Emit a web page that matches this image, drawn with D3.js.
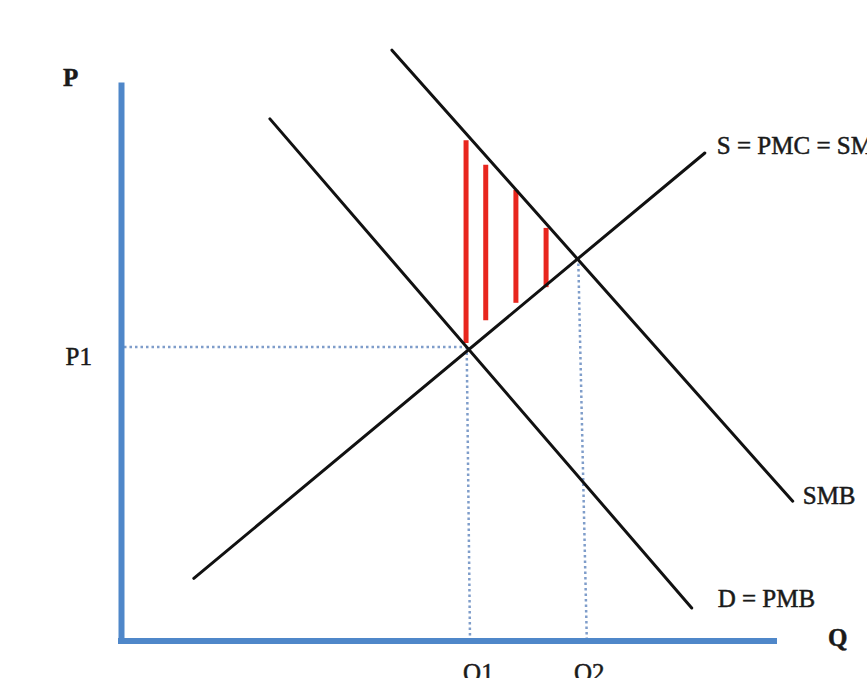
<!DOCTYPE html>
<html>
<head>
<meta charset="utf-8">
<script src="https://cdn.jsdelivr.net/npm/d3@7"></script>
<style>
  body { margin: 0; background: #fff; }
  svg { display: block; }
  text { font-family: "Liberation Serif", "Times New Roman", serif; fill: #1a1a1a; stroke: #1a1a1a; stroke-width: 0.5px; }
</style>
</head>
<body>
<div id="chart"></div>
<script>
var svgWidth = 867;
var svgHeight = 678;

// curves, as [Q, P] end points in chart units (0-100 on each axis)
var curveNames = ["D = PMB", "SMB", "S = PMC = SMC"];
var dQ = [22.7, 87.0];
var dP = [93.4, 5.9];
var smbQ = [41.3, 102.4];
var smbP = [105.7, 25.0];
var sQ = [11.1, 89.0];
var sP = [11.2, 87.3];

// equilibria (D/S and SMB/S) and where their guide lines meet the Q axis
var eqQ = [52.7, 69.7];
var eqP = [52.6, 68.5];
var footQ = [53.2, 71.0];

// axis labels
var qTickValues = [54.4, 71.3];
var qTickLabels = ["Q1", "Q2"];
var pTickValues = [52.6];
var pTickLabels = ["P1"];

// red hatching between SMB and S
var hatchQ = [52.6, 55.6, 60.2, 64.8];
var hatchTop = [89.6, 85.2, 80.7, 73.9];
var hatchBottom = [53.3, 57.4, 60.5, 63.3];

var x = d3.scaleLinear().domain([0, 100]).range([121, 777]);
var y = d3.scaleLinear().domain([0, 100]).range([641, 82]);

var svg = d3.select("#chart")
  .append("svg")
  .attr("width", svgWidth)
  .attr("height", svgHeight);

var axisColor = "#4f87c9";
var guideColor = "#7f9dca";

// dotted guides
svg.append("line")
  .attr("x1", x(0) + 3).attr("y1", y(eqP[0]))
  .attr("x2", x(eqQ[0])).attr("y2", y(eqP[0]))
  .attr("stroke", guideColor)
  .attr("stroke-width", 2.5)
  .attr("stroke-dasharray", "2.5,3");

svg.selectAll(".qguide")
  .data(eqQ)
  .enter()
  .append("line")
  .attr("class", "qguide")
  .attr("x1", d => x(d))
  .attr("y1", (d, i) => y(eqP[i]))
  .attr("x2", (d, i) => x(footQ[i]))
  .attr("y2", y(0) - 3)
  .attr("stroke", guideColor)
  .attr("stroke-width", 2.5)
  .attr("stroke-dasharray", "2.5,3");

// hatching
svg.selectAll(".hatch")
  .data(hatchQ)
  .enter()
  .append("line")
  .attr("class", "hatch")
  .attr("x1", d => x(d))
  .attr("x2", d => x(d))
  .attr("y1", (d, i) => y(hatchTop[i]))
  .attr("y2", (d, i) => y(hatchBottom[i]))
  .attr("stroke", "#e8261e")
  .attr("stroke-width", 5);

// curves
var curves = [
  {name: curveNames[0], q: dQ, p: dP},
  {name: curveNames[1], q: smbQ, p: smbP},
  {name: curveNames[2], q: sQ, p: sP}
];

var line = d3.line()
  .x(d => x(d[0]))
  .y(d => y(d[1]));

svg.selectAll(".curve")
  .data(curves)
  .enter()
  .append("path")
  .attr("class", "curve")
  .attr("d", c => line(d3.zip(c.q, c.p)))
  .attr("fill", "none")
  .attr("stroke", "#111")
  .attr("stroke-width", 3)
  .attr("stroke-linecap", "round");

// curve labels
svg.append("text")
  .attr("x", x(dQ[1]) + 26).attr("y", y(dP[1]) - 1)
  .style("font-size", "25px")
  .text(curveNames[0]);

svg.append("text")
  .attr("x", x(smbQ[1]) + 10).attr("y", y(smbP[1]) + 3)
  .style("font-size", "25px")
  .text(curveNames[1]);

svg.append("text")
  .attr("x", x(sQ[1]) + 12).attr("y", y(sP[1]) + 1)
  .style("font-size", "25px")
  .text(curveNames[2]);

// axes
var xAxis = d3.axisBottom(x)
  .tickValues(qTickValues)
  .tickFormat((d, i) => qTickLabels[i])
  .tickSize(0)
  .tickSizeOuter(0)
  .tickPadding(22);

var yAxis = d3.axisLeft(y)
  .tickValues(pTickValues)
  .tickFormat((d, i) => pTickLabels[i])
  .tickSize(0)
  .tickSizeOuter(0)
  .tickPadding(29);

var xg = svg.append("g")
  .attr("transform", `translate(0, ${y(0)})`)
  .call(xAxis);

var yg = svg.append("g")
  .attr("transform", `translate(${x(0)}, 0)`)
  .call(yAxis);

xg.select(".domain")
  .attr("d", `M${x(0) - 3},0H${x(100)}`);

[xg, yg].forEach(function(g) {
  g.select(".domain")
    .attr("stroke", axisColor)
    .attr("stroke-width", 6);
  g.selectAll("text")
    .attr("fill", "#1a1a1a")
    .style("font-family", "'Liberation Serif', serif")
    .style("font-size", "25px");
});

xg.selectAll("text").attr("dy", "0.71em");
yg.selectAll("text").attr("dy", "0.72em");

svg.append("text")
  .attr("x", 63).attr("y", 86)
  .style("font-size", "25px")
  .style("font-weight", "bold")
  .text("P");

svg.append("text")
  .attr("x", 828).attr("y", 646)
  .style("font-size", "25px")
  .style("font-weight", "bold")
  .text("Q");
</script>
</body>
</html>
